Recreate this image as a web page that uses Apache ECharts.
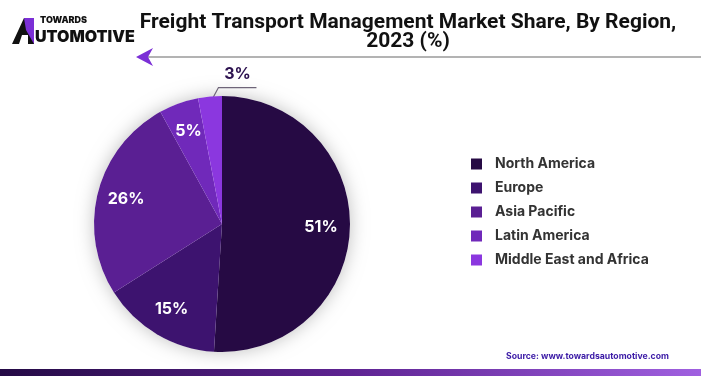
<!DOCTYPE html>
<html>
<head>
<meta charset="utf-8">
<script src="https://cdn.jsdelivr.net/npm/echarts@6/dist/echarts.min.js"></script>
<style>
  html, body { margin: 0; padding: 0; background: #fff; }
  #chart { width: 701px; height: 376px; }
</style>
</head>
<body>
<div id="chart"></div>
<script>
const regions = ['North America', 'Europe', 'Asia Pacific', 'Latin America', 'Middle East and Africa']
const shares = [51, 15, 26, 5, 3]
const colors = ['#260a44', '#3d136f', '#5a1f93', '#7029ba', '#8b37df']

const pieCenter = [222, 224]
const pieRadius = 128
const lastIdx = regions.length - 1

const chart = echarts.init(document.getElementById('chart'))

// main slices: only the tiny slice carries a label (outside, with a leader line)
const pieData = regions.map((name, i) => {
  const item = { name: name, value: shares[i] }
  if (i === lastIdx) {
    item.label = { show: true }
    item.labelLine = { show: true }
  }
  return item
})

// transparent twin series, larger radius, used only to push inner labels outward
const labelData = regions.map((name, i) => ({
  name: name,
  value: shares[i],
  label: { show: i !== lastIdx }
}))

const titleFont = {
  fontFamily: 'Roboto',
  fontWeight: 'bold',
  fontSize: 21,
  color: '#111'
}

const option = {
  backgroundColor: '#ffffff',
  color: colors,
  title: {
    text: 'Freight Transport Management Market Share, By Region,',
    subtext: '2023 (%)',
    left: 408,
    top: 12,
    padding: 0,
    itemGap: -2,
    textAlign: 'center',
    textStyle: titleFont,
    subtextStyle: titleFont
  },
  legend: {
    orient: 'vertical',
    left: 471,
    top: 157,
    padding: 0,
    icon: 'rect',
    itemWidth: 11,
    itemHeight: 11,
    itemGap: 10,
    selectedMode: false,
    data: regions,
    textStyle: {
      fontFamily: 'Inter',
      fontWeight: 'bold',
      fontSize: 14,
      color: '#333',
      padding: [0, 0, 0, 8]
    }
  },
  graphic: [
    // header rule with arrow
    {
      type: 'line',
      shape: { x1: 146, y1: 57, x2: 701, y2: 57 },
      style: { stroke: '#9a9a9a', lineWidth: 1.5 }
    },
    {
      type: 'polygon',
      shape: { points: [[136, 57], [153, 48], [148, 57], [153, 66]] },
      style: { fill: '#7b2fd6' }
    },
    // logo
    {
      type: 'polygon',
      shape: { points: [[12, 44], [24, 18], [34, 18], [34, 44], [28, 44], [28, 35], [22, 35], [19, 44]] },
      style: { fill: '#111' }
    },
    {
      type: 'polygon',
      shape: { points: [[24, 18], [34, 18], [34, 44], [26, 30]] },
      style: { fill: '#7b2fd6' }
    },
    {
      type: 'text',
      left: 40,
      top: 16,
      style: { text: 'TOWARDS', fontFamily: 'Inter', fontWeight: 900, fontSize: 9, fill: '#111' }
    },
    {
      type: 'text',
      left: 35,
      top: 29,
      style: { text: 'UTOMOTIVE', fontFamily: 'Inter', fontWeight: 900, fontSize: 16, fill: '#111' }
    },
    // source
    {
      type: 'text',
      left: 506,
      top: 352,
      style: {
        text: 'Source: www.towardsautomotive.com',
        fontFamily: 'Inter',
        fontWeight: 'bold',
        fontSize: 8.7,
        fill: '#3b1aa6'
      }
    },
    // bottom band
    {
      type: 'rect',
      shape: { x: 0, y: 369, width: 701, height: 7 },
      style: {
        fill: new echarts.graphic.LinearGradient(0, 0, 1, 0, [
          { offset: 0, color: '#240a45' },
          { offset: 0.5, color: '#5e2392' },
          { offset: 1, color: '#a060e0' }
        ])
      }
    }
  ],
  series: [
    {
      // backdrop disc for the soft shadow
      type: 'pie',
      silent: true,
      radius: pieRadius,
      center: pieCenter,
      z: 1,
      label: { show: false },
      labelLine: { show: false },
      itemStyle: {
        color: '#ffffff',
        shadowBlur: 18,
        shadowColor: 'rgba(0,0,0,0.25)'
      },
      data: [{ value: 1, name: '_bg' }],
      legendHoverLink: false
    },
    {
      type: 'pie',
      radius: pieRadius,
      center: pieCenter,
      startAngle: 90,
      clockwise: true,
      z: 2,
      itemStyle: { borderWidth: 0 },
      label: {
        show: false,
        position: 'outside',
        formatter: '{c}%',
        fontFamily: 'Inter',
        fontWeight: 'bold',
        fontSize: 16,
        color: '#2d1250'
      },
      labelLine: {
        show: false,
        length: 10,
        length2: 30,
        lineStyle: { color: '#6e6478', width: 1.2 }
      },
      labelLayout: function (params) {
        if (params.dataIndex !== lastIdx || !params.labelLinePoints) return {}
        const s = params.labelLinePoints[0]
        const p0 = [s[0] + 0.5, s[1] + 6]
        const p1 = [p0[0] + 8, p0[1] - 15]
        const p2 = [p1[0] + 38, p1[1]]
        return {
          x: (p1[0] + p2[0]) / 2,
          y: p1[1] - 5,
          align: 'center',
          verticalAlign: 'bottom',
          labelLinePoints: [p0, p1, p2]
        }
      },
      data: pieData
    },
    {
      type: 'pie',
      silent: true,
      radius: pieRadius * 1.5,
      center: pieCenter,
      startAngle: 90,
      clockwise: true,
      z: 3,
      legendHoverLink: false,
      itemStyle: { color: 'rgba(0,0,0,0)', borderWidth: 0 },
      label: {
        position: 'inner',
        formatter: '{c}%',
        fontFamily: 'Inter',
        fontWeight: 'bold',
        fontSize: 16,
        color: '#ffffff'
      },
      labelLine: { show: false },
      data: labelData
    }
  ]
}

chart.setOption(option)
</script>
</body>
</html>
